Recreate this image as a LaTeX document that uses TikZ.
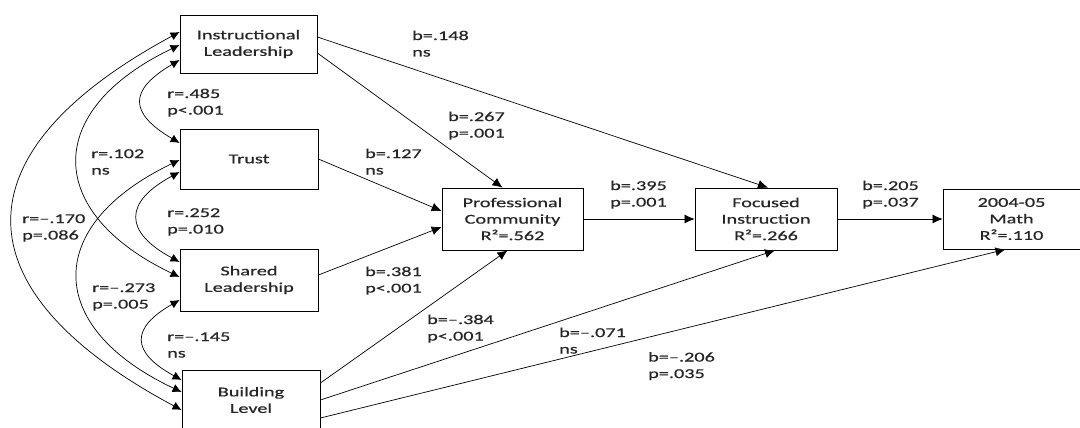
\documentclass[tikz,border=0pt]{standalone}
\usepackage{fontspec}
\setmainfont{Carlito}[FakeStretch=1.5,FakeBold=0.6]
\usetikzlibrary{arrows.meta,calc}
\tikzset{
  box/.style={draw, line width=0.8pt, inner sep=0pt, align=center, font=\fontsize{13.5}{16.5}\selectfont, text=black!85},
  lbl/.style={anchor=base west, inner sep=0pt, align=left, font=\fontsize{13.5}{16.5}\selectfont, text=black!85},
  path/.style={draw, line width=0.7pt, -{Latex[length=10pt,width=9pt]}},
  corr/.style={draw, line width=0.7pt, {Latex[length=9pt,width=8.5pt]}-{Latex[length=9pt,width=8.5pt]}},
}
\begin{document}
\begin{tikzpicture}[x=1pt,y=-1pt]
\useasboundingbox (0,0) rectangle (1080,428);
% boxes
\node[box, minimum width=137pt, minimum height=58pt] (IL) at (248.5,44) {Instructional\\Leadership};
\node[box, minimum width=138pt, minimum height=60pt] (TR) at (249,159) {Trust};
\node[box, minimum width=138pt, minimum height=62pt] (SL) at (249,280) {Shared\\Leadership};
\node[box, minimum width=138pt, minimum height=60pt] (BL) at (251,400) {Building\\Level};
\node[box, minimum width=141pt, minimum height=62pt] (PC) at (512.5,219) {Professional\\Community\\R²=.562};
\node[box, minimum width=142pt, minimum height=62pt] (FI) at (766,219) {Focused\\Instruction\\R²=.266};
\node[box, minimum width=137pt, minimum height=60pt] (MA) at (1011.5,219) {2004-05\\Math\\R²=.110};
% direct paths
\path[path] ([yshift=7pt]IL.east) -- ([xshift=2pt]FI.north);
\path[path] ([yshift=-9pt]IL.east) -- ([xshift=-10pt]PC.north);
\path[path] (TR.east) -- ([yshift=8pt]PC.west);
\path[path] ([yshift=5pt]SL.east) -- ([yshift=-8pt]PC.west);
\path[path] ([yshift=17pt]BL.east) -- ([xshift=-5pt]PC.south);
\path[path] (BL.east) -- ([xshift=9pt]FI.south);
\path[path] ([yshift=-18pt]BL.east) -- ([xshift=-6pt]MA.south);
\path[path] (PC.east) -- (FI.west);
\path[path] (FI.east) -- (MA.west);
% correlations
\path[corr] ([yshift=-16pt]IL.west) .. controls +(-51,30) and +(-51,-30) .. ([yshift=16pt]TR.west);
\path[corr] ([yshift=-1pt]IL.west) .. controls +(-136,65) and +(-136,-65) .. ([yshift=3pt]SL.west);
\path[corr] ([yshift=12pt]IL.west) .. controls +(-223,120) and +(-225,-120) .. ([yshift=-10pt]BL.west);
\path[corr] ([yshift=-13pt]TR.west) .. controls +(-56,30) and +(-56,-30) .. ([yshift=18pt]SL.west);
\path[corr] ([yshift=-1pt]TR.west) .. controls +(-136,65) and +(-138,-65) .. ([yshift=8pt]BL.west);
\path[corr] ([yshift=-20pt]SL.west) .. controls +(-49,28) and +(-51,-28) .. ([yshift=20pt]BL.west);
% labels
\node[lbl] (b1) at (412,56.5) {b=.148\\ns};
\node[lbl] (b2) at (448,137.5) {b=.267\\p=.001};
\node[lbl] (b3) at (365,174.5) {b=.127\\ns};
\node[lbl] (b4) at (610,206.5) {b=.395\\p=.001};
\node[lbl] (b5) at (365,292.5) {b=.381\\p<.001};
\node[lbl] (b6) at (427,340.5) {b=–.384\\p<.001};
\node[lbl] (b7) at (559,353.5) {b=–.071\\ns};
\node[lbl] (b8) at (648,378) {b=–.206\\p=.035};
\node[lbl] (b9) at (862,206.5) {b=.205\\p=.037};
\node[lbl] (r1) at (167,114.5) {r=.485\\p<.001};
\node[lbl] (r2) at (91,174.5) {r=.102\\ns};
\node[lbl] (r3) at (167,233.5) {r=.252\\p=.010};
\node[lbl] (r4) at (22,239.5) {r=–.170\\p=.086};
\node[lbl] (r5) at (92,308.5) {r=–.273\\p=.005};
\node[lbl] (r6) at (167,357.5) {r=–.145\\ns};
\end{tikzpicture}
\end{document}
